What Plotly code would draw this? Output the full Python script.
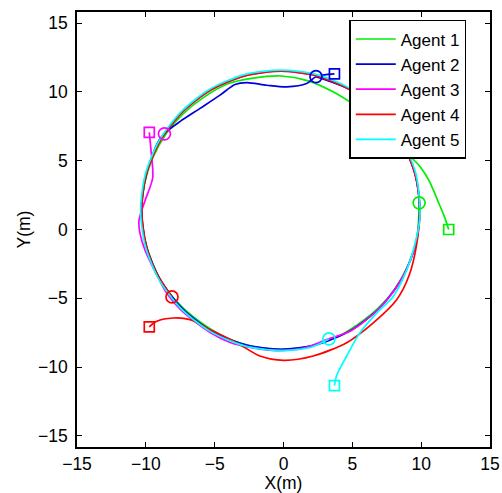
import plotly.graph_objects as go

agent_names = ["Agent 1", "Agent 2", "Agent 3", "Agent 4", "Agent 5"]
agent_colors = ["#00ee00", "#0000dd", "#ff00ff", "#ff0000", "#00ffff"]

# Start positions (squares)
start_x = [12.0, 3.7, -9.75, -9.75, 3.7]
start_y = [0.0, 11.3, 7.05, -7.07, -11.34]

# Final positions (circles)
end_x = [9.85, 2.36, -8.65, -8.1, 3.3]
end_y = [1.94, 11.1, 6.95, -4.9, -7.95]

# Trajectories
a1_x = [12.0, 11.7, 11.2, 10.6, 9.9, 9.0, 7.9, 6.6, 5.2, 3.6, 1.8, -0.2, -2.2, -4.0, -5.8, -7.3, -8.5,
        -9.5, -10.1, -10.3, -10.1, -9.5, -8.6, -7.3, -5.8, -4.1, -2.2, -0.2, 1.8, 3.7, 5.4, 6.9,
        8.1, 9.1, 9.7, 9.85]
a1_y = [0.0, 0.9, 2.1, 3.5, 4.6, 5.5, 6.6, 7.9, 9.0, 10.0, 10.8, 11.15, 11.0, 10.6, 9.6, 8.4, 7.0,
        5.2, 3.3, 1.4, -0.6, -2.5, -4.2, -5.7, -6.9, -7.9, -8.5, -8.7, -8.5, -7.9, -6.9, -5.7,
        -4.3, -2.5, -0.6, 1.94]

a2_x = [3.7, 2.36, 1.68, 0.23, -1.22, -2.67, -3.52, -4.61, -6.06, -7.52, -8.48, -9.09, -9.96,
        -10.3, -9.96, -8.95, -7.34, -5.25, -2.81, -0.2, 2.41, 4.85, 6.94, 8.55, 9.56, 9.9,
        9.56, 8.55, 6.94, 4.85, 2.36]
a2_y = [11.3, 11.1, 10.6, 10.36, 10.48, 10.67, 10.53, 9.76, 8.8, 7.84, 7.12, 6.4, 4.01,
        1.4, -1.21, -3.65, -5.74, -7.35, -8.36, -8.7, -8.36, -7.35, -5.74, -3.65, -1.21, 1.4,
        4.01, 6.45, 8.54, 10.15, 11.1]

a3_x = [-9.75, -9.62, -9.5, -10.06, -10.5, -10.42, -10.06, -9.1, -8.48, -7.4, -5.3, -3.88,
        -2.2, -0.5, 1.5, 3.14, 4.9, 6.95, 8.55, 9.56, 9.9, 9.56, 8.55, 6.94, 4.85, 2.41,
        -0.2, -2.81, -5.25, -7.34, -8.65]
a3_y = [7.05, 5.69, 3.76, 2.09, 0.65, -0.3, -1.5, -3.5, -4.63, -5.9, -7.5, -8.2,
        -8.6, -8.8, -8.6, -7.99, -7.35, -5.74, -3.65, -1.21, 1.4, 4.01, 6.45, 8.54, 10.15, 11.16,
        11.5, 11.16, 10.15, 8.54, 6.95]

a4_x = [-9.75, -9.21, -8.0, -6.79, -5.34, -3.4, -1.71, 0.0, 2.16, 4.59, 6.52, 8.22, 9.1,
        9.65, 9.9, 9.56, 8.55, 6.94, 4.85, 2.41, -0.2, -2.81, -5.25, -7.34, -8.95, -9.96,
        -10.3, -9.96, -9.2, -8.1]
a4_y = [-7.07, -6.67, -6.43, -6.55, -7.27, -8.22, -9.19, -9.5, -9.19, -8.22, -6.78, -5.1, -3.4,
        -1.2, 1.4, 4.01, 6.45, 8.54, 10.15, 11.16, 11.5, 11.16, 10.15, 8.54, 6.45, 4.01,
        1.4, -1.21, -3.2, -4.9]

a5_x = [3.7, 3.86, 4.59, 5.55, 6.77, 7.97, 8.95, 9.43, 9.91, 9.62, 8.6, 6.98, 4.88, 2.42,
        -0.2, -2.83, -5.3, -7.39, -9.01, -10.03, -10.38, -10.03, -9.01, -7.39, -5.3, -2.83,
        -0.2, 2.0, 3.3]
a5_y = [-11.34, -10.6, -9.19, -7.5, -6.07, -4.87, -2.95, -1.51, 0.88, 4.03, 6.5, 8.6, 10.22,
        11.25, 11.58, 11.25, 10.22, 8.6, 6.5, 4.03, 1.4, -1.23, -3.7, -5.8, -7.42, -8.45,
        -8.8, -8.55, -7.95]

traj_x = [a1_x, a2_x, a3_x, a4_x, a5_x]
traj_y = [a1_y, a2_y, a3_y, a4_y, a5_y]

tick_vals = [-15, -10, -5, 0, 5, 10, 15]

fig = go.Figure()
for i in range(5):
    fig.add_trace(go.Scatter(x=traj_x[i], y=traj_y[i], mode="lines", name=agent_names[i],
                             line=dict(color=agent_colors[i], width=1.7, shape="spline", smoothing=0.8)))
for i in range(5):
    fig.add_trace(go.Scatter(x=[start_x[i]], y=[start_y[i]], mode="markers", showlegend=False,
                             marker=dict(symbol="square-open", size=10, color=agent_colors[i],
                                         line=dict(width=1.7, color=agent_colors[i]))))
    fig.add_trace(go.Scatter(x=[end_x[i]], y=[end_y[i]], mode="markers", showlegend=False,
                             marker=dict(symbol="circle-open", size=12, color=agent_colors[i],
                                         line=dict(width=1.7, color=agent_colors[i]))))

axis_common = dict(showgrid=False, zeroline=False, showline=True, linecolor="black", linewidth=1.6,
                   mirror="ticks", ticks="inside", ticklen=5, tickwidth=1.2, tickcolor="black",
                   tickvals=tick_vals, tickfont=dict(size=17.5, color="black"), automargin=False)

fig.update_layout(
    width=502, height=493,
    margin=dict(l=77, r=12, t=12, b=46),
    paper_bgcolor="white", plot_bgcolor="white",
    font=dict(family="Liberation Sans, Arial, sans-serif", size=17.5, color="black"),
    xaxis=dict(range=[-15, 15], ticklabelstandoff=0,
               title=dict(text="X(m)", standoff=6, font=dict(size=17.5)), **axis_common),
    yaxis=dict(range=[-15.8, 15.8], ticklabelstandoff=4,
               title=dict(text="Y(m)", standoff=3, font=dict(size=17.5)), **axis_common),
    legend=dict(x=0.659, y=0.982, xanchor="left", yanchor="top", bgcolor="white",
                bordercolor="black", borderwidth=1.6, font=dict(size=17, color="black"),
                tracegroupgap=0, itemwidth=40),
    showlegend=True,
)

fig.write_html("out.html")
